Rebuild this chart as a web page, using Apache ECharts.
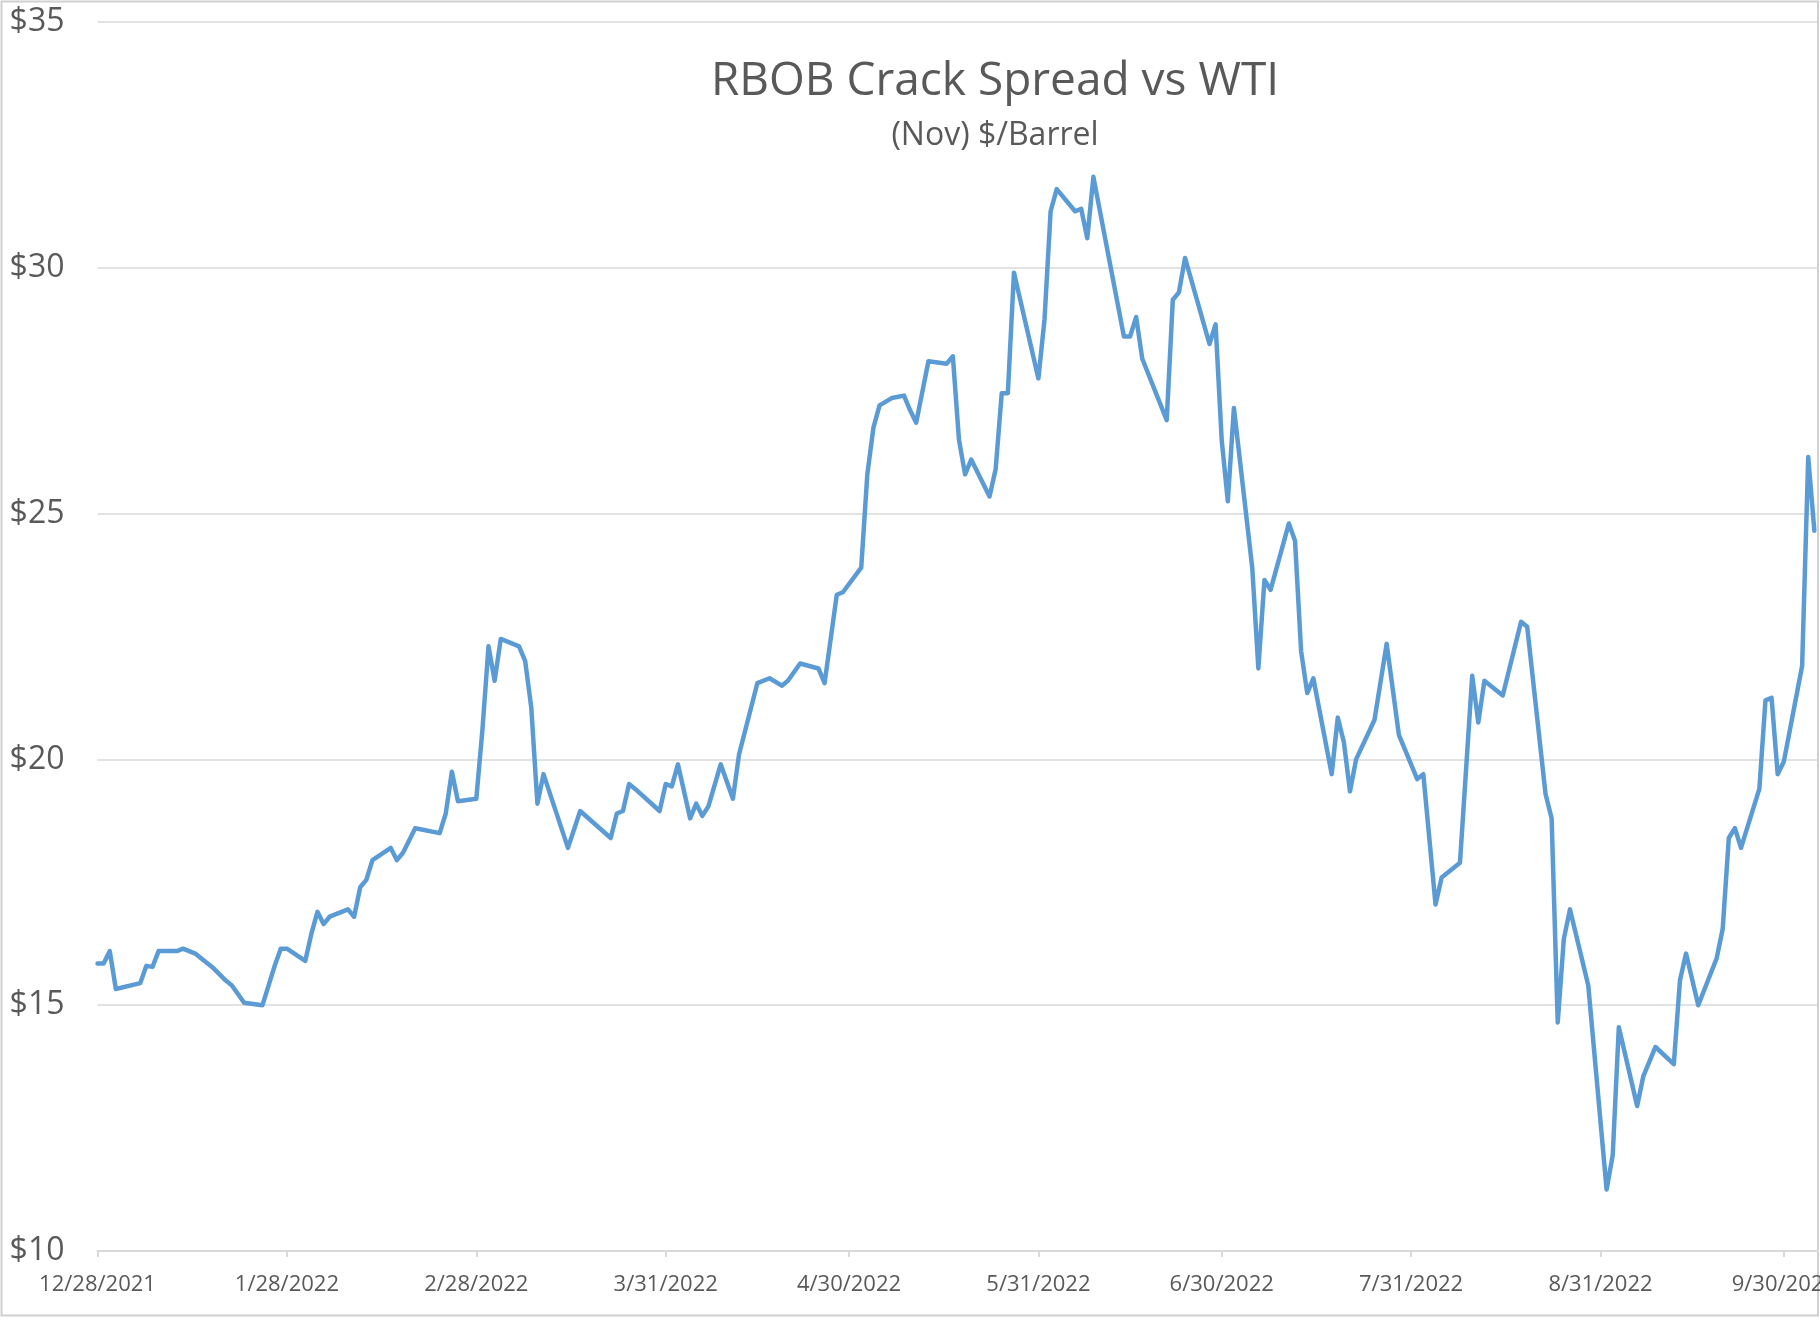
<!DOCTYPE html>
<html>
<head>
<meta charset="utf-8">
<script src="https://cdn.jsdelivr.net/npm/echarts@6/dist/echarts.min.js"></script>
<style>
  html, body { margin: 0; padding: 0; background: #ffffff; }
  #chart { width: 1820px; height: 1320px; }
</style>
</head>
<body>
<div id="chart"></div>
<script>
// ---- Data ----
const titleText = 'RBOB Crack Spread vs WTI';
const subtitleText = '(Nov) $/Barrel';

const tickLabels = ['12/28/2021', '1/28/2022', '2/28/2022', '3/31/2022', '4/30/2022',
  '5/31/2022', '6/30/2022', '7/31/2022', '8/31/2022', '9/30/2022'];

const yMin = 10, yMax = 35, yStep = 5;

const dates = [
  '2021-12-28','2021-12-29','2021-12-30','2021-12-31','2022-01-04','2022-01-05','2022-01-06','2022-01-07',
  '2022-01-10','2022-01-11','2022-01-13','2022-01-14','2022-01-16','2022-01-18','2022-01-19','2022-01-21',
  '2022-01-24','2022-01-26','2022-01-27','2022-01-28','2022-01-31','2022-02-01','2022-02-02','2022-02-03',
  '2022-02-04','2022-02-07','2022-02-08','2022-02-09','2022-02-10','2022-02-11','2022-02-14','2022-02-15',
  '2022-02-16','2022-02-18','2022-02-22','2022-02-23','2022-02-24','2022-02-25','2022-02-28','2022-03-01',
  '2022-03-02','2022-03-03','2022-03-04','2022-03-07','2022-03-08','2022-03-09','2022-03-10','2022-03-11',
  '2022-03-15','2022-03-17','2022-03-22','2022-03-23','2022-03-24','2022-03-25','2022-03-26','2022-03-30',
  '2022-03-31','2022-04-01','2022-04-02','2022-04-04','2022-04-05','2022-04-06','2022-04-07','2022-04-09',
  '2022-04-11','2022-04-12','2022-04-15','2022-04-17','2022-04-19','2022-04-20','2022-04-22','2022-04-25',
  '2022-04-26','2022-04-28','2022-04-29','2022-05-02','2022-05-03','2022-05-04','2022-05-05','2022-05-07',
  '2022-05-09','2022-05-10','2022-05-11','2022-05-13','2022-05-16','2022-05-17','2022-05-18','2022-05-19',
  '2022-05-20','2022-05-23','2022-05-24','2022-05-25','2022-05-26','2022-05-27','2022-05-31','2022-06-01',
  '2022-06-02','2022-06-03','2022-06-06','2022-06-07','2022-06-08','2022-06-09','2022-06-14','2022-06-15',
  '2022-06-16','2022-06-17','2022-06-21','2022-06-22','2022-06-23','2022-06-24','2022-06-28','2022-06-29',
  '2022-06-30','2022-07-01','2022-07-02','2022-07-05','2022-07-06','2022-07-07','2022-07-08','2022-07-11',
  '2022-07-12','2022-07-13','2022-07-14','2022-07-15','2022-07-18','2022-07-19','2022-07-20','2022-07-21',
  '2022-07-22','2022-07-25','2022-07-27','2022-07-29','2022-08-01','2022-08-02','2022-08-04','2022-08-05',
  '2022-08-08','2022-08-10','2022-08-11','2022-08-12','2022-08-15','2022-08-18','2022-08-19','2022-08-22',
  '2022-08-23','2022-08-24','2022-08-25','2022-08-26','2022-08-29','2022-09-01','2022-09-02','2022-09-03',
  '2022-09-06','2022-09-07','2022-09-09','2022-09-12','2022-09-13','2022-09-14','2022-09-16','2022-09-19',
  '2022-09-20','2022-09-21','2022-09-22','2022-09-23','2022-09-26','2022-09-27','2022-09-28','2022-09-29',
  '2022-09-30','2022-10-03','2022-10-04','2022-10-05'
];

const values = [
  15.85, 15.85, 16.10, 15.33, 15.45, 15.80, 15.78, 16.10,
  16.10, 16.15, 16.05, 15.95, 15.75, 15.50, 15.40, 15.05,
  15.00, 15.80, 16.15, 16.15, 15.90, 16.45, 16.90, 16.65,
  16.80, 16.95, 16.80, 17.40, 17.55, 17.95, 18.20, 17.95,
  18.10, 18.60, 18.50, 18.90, 19.75, 19.15, 19.20, 20.60,
  22.30, 21.60, 22.45, 22.30, 22.00, 21.05, 19.10, 19.70,
  18.20, 18.95, 18.40, 18.90, 18.95, 19.50, 19.40, 18.95,
  19.50, 19.45, 19.90, 18.80, 19.10, 18.85, 19.05, 19.90,
  19.20, 20.10, 21.55, 21.65, 21.50, 21.60, 21.95, 21.85,
  21.55, 23.35, 23.40, 23.90, 25.80, 26.75, 27.20, 27.35,
  27.40, 27.10, 26.85, 28.10, 28.05, 28.20, 26.50, 25.80,
  26.10, 25.35, 25.90, 27.45, 27.45, 29.90, 27.75, 28.95,
  31.15, 31.60, 31.15, 31.20, 30.60, 31.85, 28.60, 28.60,
  29.00, 28.15, 26.90, 29.35, 29.50, 30.20, 28.45, 28.85,
  26.50, 25.25, 27.15, 23.90, 21.85, 23.65, 23.45, 24.80,
  24.45, 22.20, 21.35, 21.65, 19.70, 20.85, 20.35, 19.35,
  20.00, 20.80, 22.35, 20.50, 19.60, 19.70, 17.05, 17.60,
  17.90, 21.70, 20.75, 21.60, 21.30, 22.80, 22.70, 19.30,
  18.80, 14.65, 16.35, 16.95, 15.40, 11.25, 11.95, 14.55,
  12.95, 13.55, 14.15, 13.80, 15.50, 16.05, 15.00, 15.95,
  16.55, 18.40, 18.60, 18.20, 19.40, 21.20, 21.25, 19.70,
  19.95, 21.90, 26.15, 24.65
];

// ---- helpers ----
function dayNumberISO(s) {
  const p = s.split('-').map(Number);
  return Date.UTC(p[0], p[1] - 1, p[2]) / 86400000;
}
function dayNumberUS(s) {
  const p = s.split('/').map(Number);
  return Date.UTC(p[2], p[0] - 1, p[1]) / 86400000;
}
const origin = dayNumberUS(tickLabels[0]);
const tickDays = tickLabels.map(t => dayNumberUS(t) - origin);
const labelByDay = {};
tickLabels.forEach((t, i) => { labelByDay[tickDays[i]] = t; });
const seriesData = dates.map((d, i) => [dayNumberISO(d) - origin, values[i]]);

const FONT = '"Open Sans", "Noto Sans", sans-serif';
const TEXT = '#595959';
const GRID = '#d9d9d9';

const chart = echarts.init(document.getElementById('chart'), null, { renderer: 'canvas' });
chart.setOption({
  animation: false,
  backgroundColor: '#ffffff',
  title: [
    {
      text: titleText,
      left: 990, top: 54, textAlign: 'center',
      textStyle: { fontFamily: FONT, fontSize: 46, fontWeight: 'normal', color: TEXT }
    },
    {
      text: subtitleText,
      left: 990, top: 115, textAlign: 'center',
      textStyle: { fontFamily: FONT, fontSize: 32, fontWeight: 'normal', color: TEXT }
    }
  ],
  grid: { left: 97.5, right: 2, top: 22, bottom: 69, containLabel: false, outerBoundsMode: 'none' },
  xAxis: {
    type: 'value',
    min: 0,
    max: 281.6,
    splitLine: { show: false },
    axisLine: { show: true, lineStyle: { color: GRID, width: 2 } },
    axisTick: { show: true, customValues: tickDays, length: 6, lineStyle: { color: GRID, width: 2 } },
    axisLabel: {
      customValues: tickDays,
      formatter: v => labelByDay[Math.round(v)] || '',
      fontFamily: FONT, fontSize: 22, color: TEXT, margin: 23
    }
  },
  yAxis: {
    type: 'value',
    min: yMin, max: yMax, interval: yStep,
    axisLine: { show: false },
    axisTick: { show: false },
    splitLine: { show: true, lineStyle: { color: GRID, width: 1.5 } },
    axisLabel: {
      formatter: v => '$' + v,
      fontFamily: FONT, fontSize: 32, color: TEXT, margin: 33
    }
  },
  series: [{
    type: 'line',
    data: seriesData,
    showSymbol: false,
    symbol: 'none',
    lineStyle: { color: '#5B9BD5', width: 4.5, join: 'round', cap: 'round' },
    z: 3
  }],
  graphic: [{
    type: 'rect',
    shape: { x: 1.5, y: 1.5, width: 1816.5, height: 1314 },
    style: { fill: null, stroke: '#d0d0d0', lineWidth: 2 },
    silent: true, z: 0
  }]
});
</script>
</body>
</html>
